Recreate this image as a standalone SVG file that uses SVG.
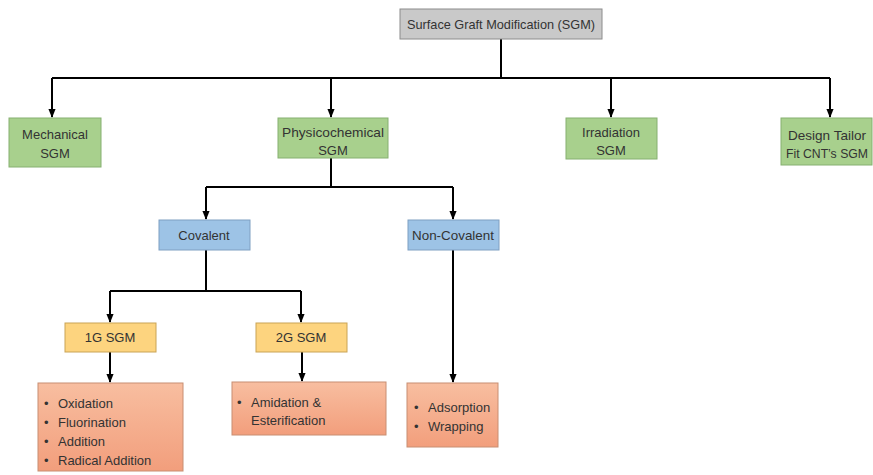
<svg xmlns="http://www.w3.org/2000/svg" width="873" height="475" viewBox="0 0 873 475">
<defs>
<marker id="ah" viewBox="0 0 10 10" refX="9" refY="5" markerWidth="4.5" markerHeight="4.5" orient="auto" markerUnits="strokeWidth">
<path d="M0,1 L10,5 L0,9 z" fill="#000"/>
</marker>
<linearGradient id="sal" x1="0" y1="0" x2="0" y2="1">
<stop offset="0" stop-color="#f8bea0"/>
<stop offset="1" stop-color="#f29e7c"/>
</linearGradient>
</defs>
<style>
text{font-family:"Liberation Sans",Arial,sans-serif;font-size:13px;fill:#333;}
.c{text-anchor:middle;}
.grey{fill:#c9c9c9;stroke:#8c8c8c;stroke-width:1;}
.green{fill:#a8d08d;stroke:#86b070;stroke-width:1;}
.blue{fill:#9dc3e6;stroke:#7f9fc2;stroke-width:1;}
.yellow{fill:#fdd47f;stroke:#c9a456;stroke-width:1;}
.sal{fill:url(#sal);stroke:#c88e72;stroke-width:1;}
.ln{fill:none;stroke:#000;stroke-width:2;}
.ar{fill:none;stroke:#000;stroke-width:2;marker-end:url(#ah);}
</style>
<rect width="873" height="475" fill="#fff"/>
<g id="connectors">
<path class="ln" d="M501,39 V78"/>
<path class="ln" d="M52,78 H830"/>
<path class="ar" d="M52,78 V117"/>
<path class="ar" d="M331,78 V117"/>
<path class="ar" d="M611,78 V117"/>
<path class="ar" d="M830,78 V117"/>
<path class="ln" d="M331,158 V187"/>
<path class="ln" d="M206,187 H453"/>
<path class="ar" d="M206,187 V219"/>
<path class="ar" d="M453,187 V219"/>
<path class="ln" d="M206,250 V291"/>
<path class="ln" d="M110,291 H301"/>
<path class="ar" d="M110,291 V322"/>
<path class="ar" d="M301,291 V322"/>
<path class="ar" d="M110,352 V382"/>
<path class="ar" d="M302,352 V381"/>
<path class="ar" d="M453,250 V382"/>
</g>
<g id="sgm">
<rect class="grey" x="400" y="9" width="202" height="30"/>
<text class="c" x="501" y="29" textLength="188" lengthAdjust="spacingAndGlyphs">Surface Graft Modification (SGM)</text>
</g>
<g id="mechanical">
<rect class="green" x="9" y="118" width="92" height="49"/>
<text class="c" x="55" y="139">Mechanical</text>
<text class="c" x="55" y="158">SGM</text>
</g>
<g id="physicochemical">
<rect class="green" x="278" y="118" width="110" height="40"/>
<text class="c" x="333" y="137" textLength="102" lengthAdjust="spacingAndGlyphs">Physicochemical</text>
<text class="c" x="333" y="155">SGM</text>
</g>
<g id="irradiation">
<rect class="green" x="566" y="118" width="91" height="41"/>
<text class="c" x="611" y="137">Irradiation</text>
<text class="c" x="611" y="155">SGM</text>
</g>
<g id="design">
<rect class="green" x="781" y="118" width="91" height="47"/>
<text class="c" x="827" y="140" textLength="78" lengthAdjust="spacingAndGlyphs">Design Tailor</text>
<text class="c" x="827" y="158" textLength="82" lengthAdjust="spacingAndGlyphs">Fit CNT’s SGM</text>
</g>
<g id="covalent">
<rect class="blue" x="159" y="220" width="91" height="30"/>
<text class="c" x="204" y="240">Covalent</text>
</g>
<g id="noncovalent">
<rect class="blue" x="408" y="220" width="91" height="30"/>
<text class="c" x="453" y="240" textLength="82" lengthAdjust="spacingAndGlyphs">Non-Covalent</text>
</g>
<g id="g1">
<rect class="yellow" x="65" y="323" width="91" height="29"/>
<text class="c" x="110" y="342">1G SGM</text>
</g>
<g id="g2">
<rect class="yellow" x="256" y="323" width="91" height="29"/>
<text class="c" x="301" y="342">2G SGM</text>
</g>
<g id="list1">
<rect class="sal" x="38" y="383" width="145" height="88"/>
<text x="44" y="408">•</text><text x="58" y="408">Oxidation</text>
<text x="44" y="427">•</text><text x="58" y="427">Fluorination</text>
<text x="44" y="446">•</text><text x="58" y="446">Addition</text>
<text x="44" y="465">•</text><text x="58" y="465">Radical Addition</text>
</g>
<g id="list2">
<rect class="sal" x="232" y="382" width="154" height="53"/>
<text x="237" y="407">•</text><text x="251" y="407">Amidation &amp;</text>
<text x="251" y="425">Esterification</text>
</g>
<g id="list3">
<rect class="sal" x="407" y="383" width="91" height="64"/>
<text x="414" y="412">•</text><text x="428" y="412">Adsorption</text>
<text x="414" y="431">•</text><text x="428" y="431">Wrapping</text>
</g>
</svg>
